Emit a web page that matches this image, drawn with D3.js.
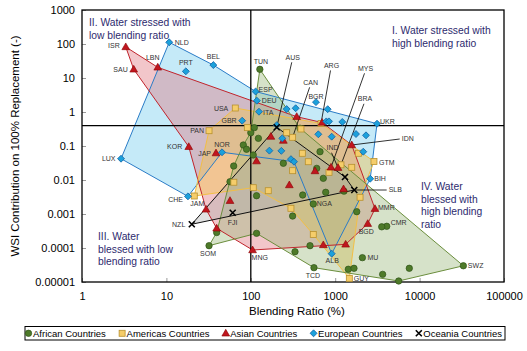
<!DOCTYPE html>
<html><head><meta charset="utf-8">
<script src="https://cdn.jsdelivr.net/npm/d3@7"></script>
<style>
body{margin:0;background:#fff}
svg{display:block}
text{font-family:"Liberation Sans",Arial,Helvetica,sans-serif}
</style>
</head><body>
<svg id="c" width="527" height="351"></svg>
<script>
// ---------------- DATA ----------------
const xTicks = [1, 10, 100, 1000, 10000, 100000];
const xTickLabels = ["1", "10", "100", "1000", "10000", "100000"];
const yTicks = [1000, 100, 10, 1, 0.1, 0.01, 0.001, 0.0001, 0.00001];
const yTickLabels = ["1000", "100", "10", "1", "0.1", "0.01", "0.001", "0.0001", "0.00001"];
const groups = ["African Countries", "Americas Countries", "Asian Countries", "European Countries", "Oceania Countries"];
const blendingThreshold = 100;
const wsiThreshold = 0.4;

const africanNames = ["TUN","SOM","TCD","MU","SWZ","CMR","","NGA","","","","","","","","","","","","","","","","","","","","","","","","","","","",""];
const africanRatio = [128,32,560,2100,33000,4080,3560,550,5650,3650,7550,1430,1670,334,503,39.4,117,110,123,81.5,89,62.7,383,100,107,243,661,604,772,412,313,1800,56.7,117,723,1270];
const africanWSI = [18,0.000117,0.0000264,0.000052,0.00003,0.000435,0.00042,0.00197,0.0000107,0.0000168,0.0000253,0.0000237,0.0000253,0.0000778,0.000117,0.000285,0.00027,0.347,0.168,0.107,0.08,0.0258,0.332,0.246,0.0543,0.031,0.068,0.022,0.00435,0.00362,0.00087,0.00117,0.0089,0.00345,0.0112,0.0047];
const africanHull = [0,22,4,8,2,16,1,15,21,19,23];

const americasNames = ["USA","PAN","JAM","GTM","GUY","CAN","ARG","BRA","","","","","","","","","","","","","","",""];
const americasRatio = [65.5,32,21.4,2880,1470,313,679,1170,91,393,266,408,480,845,1570,1880,313,107,161,63,299,1970,550];
const americasWSI = [1.31,0.282,0.00338,0.035,0.0000128,0.18,0.46,0.028,0.347,0.316,0.246,0.061,0.0345,0.0168,0.0236,0.061,0.0188,0.00594,0.00484,0.0086,0.00147,0.0031,0.00025];
const americasHull = [1,0,6,3,21,4,22,20,17,2];

const asianNames = ["ISR","SAU","LBN","KOR","JAP","MNG","MMR","BGD","IDN","IND","MYS","","","","","","","","","","","","",""];
const asianRatio = [3.3,4.1,7.9,18.4,38.7,105,2960,2430,1570,1080,892,350,700,173,243,117,286,576,1255,56.7,29.5,39.4,723,1330];
const asianWSI = [82,18,20.6,0.095,0.062,0.0000873,0.00143,0.00052,0.107,0.023,0.0236,0.728,0.49,0.19,0.145,0.036,0.00713,0.0184,0.00543,0.00246,0.00137,0.00038,0.000123,0.000128];
const asianHull = [0,2,11,12,8,6,7,23,5,21,20,3,1];

const europeanNames = ["NLD","BEL","PRT","ESP","DEU","ITA","GBR","UKR","LUX","CHE","NOR","BIH","ALB","BGR","","","","","","","","","","","","","","","","",""];
const europeanRatio = [10.8,36,17,114,118,125,79,3130,2.9,18,45.6,2600,909,592,266,340,815,785,845,1213,203,236,230,166,299,325,631,909,1764,2317,2150];
const europeanWSI = [112,24,15.7,4.0,2.15,1.02,0.555,0.453,0.0423,0.0033,0.0653,0.0109,0.000068,1.95,1.22,1.29,1.21,0.53,0.53,0.51,0.41,0.168,0.072,0.073,0.041,0.0345,0.221,0.188,0.225,0.206,0.068];
const europeanHull = [0,1,3,7,11,12,25,10,9,8];

const oceaniaNames = ["NZL","FJI","AUS","SLB",""];
const oceaniaRatio = [20,61,203,1683,1306];
const oceaniaWSI = [0.0005,0.00109,0.355,0.00508,0.01225];
const oceaniaHull = [0,2,4,3];

const quadrantTexts = [
  {lines:["II. Water stressed with","low blending ratio"]},
  {lines:["I. Water stressed with","high blending ratio"]},
  {lines:["III. Water","blessed with low","blending ratio"]},
  {lines:["IV. Water","blessed with","high blending","ratio"]}
];

// ---------------- LAYOUT / STYLE ----------------
const X0 = 82, X1 = 504, Y0 = 10, Y1 = 282;
const quadPos = [[89,25.5,13],[392,34,12.5],[98,240,12.7],[421,190,12.6]];
const labelLayout = {
  NLD:[5.5,2.5,"start"], BEL:[0,-6,"middle"], PRT:[0,-6,"middle"], ISR:[-6,1.5,"end"], SAU:[-6,2.5,"end"],
  LBN:[-5,-7,"middle"], USA:[-7,2.5,"end"], GBR:[-5.5,2.5,"end"], PAN:[-5,2.5,"end"], KOR:[-6.5,2.5,"end"],
  JAP:[-5,2.5,"end"], NOR:[0,-5,"middle"], LUX:[-5.5,2.5,"end"], CHE:[-5,6,"end"], JAM:[3,10,"middle"],
  NZL:[-6.5,2.5,"end"], FJI:[0,12,"middle"], TUN:[1,-5,"middle"], ESP:[3,0,"start"], DEU:[5,2.5,"start"],
  ITA:[4,3.5,"start"], BGR:[0,-3,"middle"], UKR:[3,0.5,"start"], GTM:[5,3,"start"], BIH:[4,2.5,"start"],
  MMR:[3,1,"start"], CMR:[4,-1.5,"start"], BGD:[-1.5,10,"middle"], NGA:[3.5,2.5,"start"], MU:[5,2.5,"start"],
  SWZ:[4.5,2.5,"start"], ALB:[0.5,9.5,"middle"], TCD:[-1,10,"middle"], GUY:[4.5,2.5,"start"], SOM:[-1,10,"middle"],
  MNG:[-1,10,"start"]
};
const leaderLayout = {
  AUS:[16,-70,false], CAN:[18,-55,false], ARG:[10.5,-58,false], MYS:[34.5,-99,false],
  BRA:[24,-66,false], IND:[-5.5,-20,false], IDN:[56,-6.5,true], SLB:[41,-0.5,true]
};

const sets = [
  {key:groups[0], names:africanNames, xs:africanRatio, ys:africanWSI, hull:africanHull, shape:"circle",
   fill:"#4e7a29", stroke:"#2f5318", area:"#9dbb7e", op:0.42, edge:"#6b8e3d"},
  {key:groups[1], names:americasNames, xs:americasRatio, ys:americasWSI, hull:americasHull, shape:"square",
   fill:"#f5cd6a", stroke:"#b8912e", area:"#f2c44f", op:0.45, edge:"#f2bf45"},
  {key:groups[2], names:asianNames, xs:asianRatio, ys:asianWSI, hull:asianHull, shape:"triangle",
   fill:"#c0161f", stroke:"#8b0000", area:"#e07880", op:0.42, edge:"#c0242c"},
  {key:groups[3], names:europeanNames, xs:europeanRatio, ys:europeanWSI, hull:europeanHull, shape:"diamond",
   fill:"#1ba1db", stroke:"#1565a8", area:"#7fd0f0", op:0.45, edge:"#2a7cc7"},
  {key:groups[4], names:oceaniaNames, xs:oceaniaRatio, ys:oceaniaWSI, hull:oceaniaHull, shape:"x",
   fill:"none", stroke:"#000", area:"#a8a8a8", op:0.35, edge:"#111"}
];
const fillOrder = [3, 2, 1, 0, 4];

// ---------------- DRAW ----------------
const svg = d3.select("#c");
const x = d3.scaleLog().domain([1, 1e5]).range([X0, X1]);
const y = d3.scaleLog().domain([1e-5, 1e3]).range([Y1, Y0]);

const polyLine = d3.line().x(d => d[0]).y(d => d[1]);
const fillG = svg.append("g");
const edgeG = svg.append("g");
fillOrder.forEach(k => {
  const s = sets[k];
  const pts = s.hull.map(i => [x(s.xs[i]), y(s.ys[i])]);
  fillG.append("path").attr("d", polyLine(pts) + "Z")
    .attr("fill", s.area).attr("fill-opacity", s.op);
  edgeG.append("path").attr("d", polyLine(pts) + "Z")
    .attr("fill", "none").attr("stroke", s.edge).attr("stroke-width", 1);
});

// axes
const yAxis = d3.axisLeft(y).tickValues(yTicks).tickFormat((d,i) => yTickLabels[i])
  .tickSizeInner(-4).tickSizeOuter(0).tickPadding(7);
const gy = svg.append("g").attr("transform", `translate(${X0},0)`).call(yAxis);
const xAxis = d3.axisBottom(x).tickValues(xTicks).tickFormat((d,i) => xTickLabels[i])
  .tickSizeInner(-4).tickSizeOuter(0).tickPadding(10);
const gx = svg.append("g").attr("transform", `translate(0,${Y1})`).call(xAxis);
[gx, gy].forEach(g => {
  g.select(".domain").remove();
  g.selectAll(".tick line").attr("stroke", "#999");
  g.selectAll(".tick text").style("font-size", "11px").attr("fill", "#000")
    .style("font-family", '"Liberation Sans",Arial,sans-serif');
});

// quadrant lines
svg.append("line").attr("x1", x(blendingThreshold)).attr("x2", x(blendingThreshold))
  .attr("y1", Y0).attr("y2", Y1).attr("stroke", "#000").attr("stroke-width", 1.3);
svg.append("line").attr("x1", X0).attr("x2", X1)
  .attr("y1", y(wsiThreshold)).attr("y2", y(wsiThreshold)).attr("stroke", "#000").attr("stroke-width", 1.3);

// frame
svg.append("rect").attr("x", X0).attr("y", Y0).attr("width", X1 - X0).attr("height", Y1 - Y0)
  .attr("fill", "none").attr("stroke", "#000").attr("stroke-width", 1.3);

// quadrant texts
quadrantTexts.forEach((q, i) => {
  const [qx, qy, lh] = quadPos[i];
  const t = svg.append("text").attr("x", qx).attr("y", qy).attr("fill", "#2d2a6e").style("font-size", "10.3px");
  q.lines.forEach((l, j) => t.append("tspan").attr("x", qx).attr("y", qy + j * lh).text(l));
});

// markers
function drawMarker(g, s, px, py) {
  if (s.shape === "circle") {
    g.append("circle").attr("cx", px).attr("cy", py).attr("r", 3.2)
      .attr("fill", s.fill).attr("stroke", s.stroke).attr("stroke-width", 0.7);
  } else if (s.shape === "square") {
    g.append("rect").attr("x", px - 3).attr("y", py - 3).attr("width", 6).attr("height", 6)
      .attr("fill", s.fill).attr("stroke", s.stroke).attr("stroke-width", 0.8);
  } else if (s.shape === "triangle") {
    g.append("path").attr("d", d3.symbol(d3.symbolTriangle, 26)()).attr("transform", `translate(${px},${py + 0.5})`)
      .attr("fill", s.fill).attr("stroke", s.stroke).attr("stroke-width", 0.6);
  } else if (s.shape === "diamond") {
    g.append("path").attr("d", d3.symbol(d3.symbolSquare, 24)()).attr("transform", `translate(${px},${py}) rotate(45)`)
      .attr("fill", s.fill).attr("stroke", s.stroke).attr("stroke-width", 0.8);
  } else {
    g.append("path").attr("d", "M-3,-3L3,3M-3,3L3,-3").attr("transform", `translate(${px},${py})`)
      .attr("fill", "none").attr("stroke", s.stroke).attr("stroke-width", 1.6);
  }
}

const leaderG = svg.append("g");
const markG = svg.append("g");
const labelG = svg.append("g");
sets.forEach(s => {
  s.xs.forEach((v, i) => {
    const px = x(v), py = y(s.ys[i]);
    drawMarker(markG, s, px, py);
    const nm = s.names[i];
    if (!nm) return;
    if (leaderLayout[nm]) {
      const [dx, dy, side] = leaderLayout[nm];
      const cx = px + dx, cy = py + dy;
      const t = labelG.append("text").attr("x", cx).attr("y", cy + 2.5).attr("text-anchor", "middle")
        .attr("fill", "#333").style("font-size", "7px").text(nm);
      const w = t.node().getComputedTextLength();
      const ex = side ? cx - w / 2 - 2 : cx - 1;
      const ey = side ? cy + 0.5 : cy + 5;
      leaderG.append("line").attr("x1", ex).attr("y1", ey).attr("x2", px).attr("y2", py)
        .attr("stroke", "#000").attr("stroke-width", 0.8);
    } else if (labelLayout[nm]) {
      const [dx, dy, anc] = labelLayout[nm];
      labelG.append("text").attr("x", px + dx).attr("y", py + dy).attr("text-anchor", anc)
        .attr("fill", "#333").style("font-size", "7px").text(nm);
    }
  });
});

// axis titles
svg.append("text").attr("x", (X0 + X1) / 2 + 4).attr("y", 314.5).attr("text-anchor", "middle")
  .style("font-size", "11.5px").attr("fill", "#000").text("Blending Ratio (%)");
svg.append("text").attr("transform", `translate(18.5,${(Y0 + Y1) / 2}) rotate(-90)`).attr("text-anchor", "middle")
  .style("font-size", "11.5px").attr("fill", "#000").text("WSI Contribution on 100% Replacement (-)");

// legend
const leg = svg.append("g");
leg.append("rect").attr("x", 25).attr("y", 326.5).attr("width", 480).attr("height", 13.5)
  .attr("fill", "#fff").attr("stroke", "#000").attr("stroke-width", 1);
const items = sets.map(s => {
  const g = leg.append("g");
  drawMarker(g, s, 0, 0);
  const t = g.append("text").attr("x", 4.5).attr("y", 3.3).style("font-size", "9.5px").attr("fill", "#000").text(s.key);
  return {g, w: 4.5 + t.node().getComputedTextLength()};
});
const startX = 28.5, endX = 502;
const total = d3.sum(items, d => d.w + 3);
const gap = (endX - (startX - 3) - total) / (items.length - 1);
let cur = startX;
items.forEach(it => { it.g.attr("transform", `translate(${cur},333.3)`); cur += it.w + 3 + gap; });
</script>
</body></html>
